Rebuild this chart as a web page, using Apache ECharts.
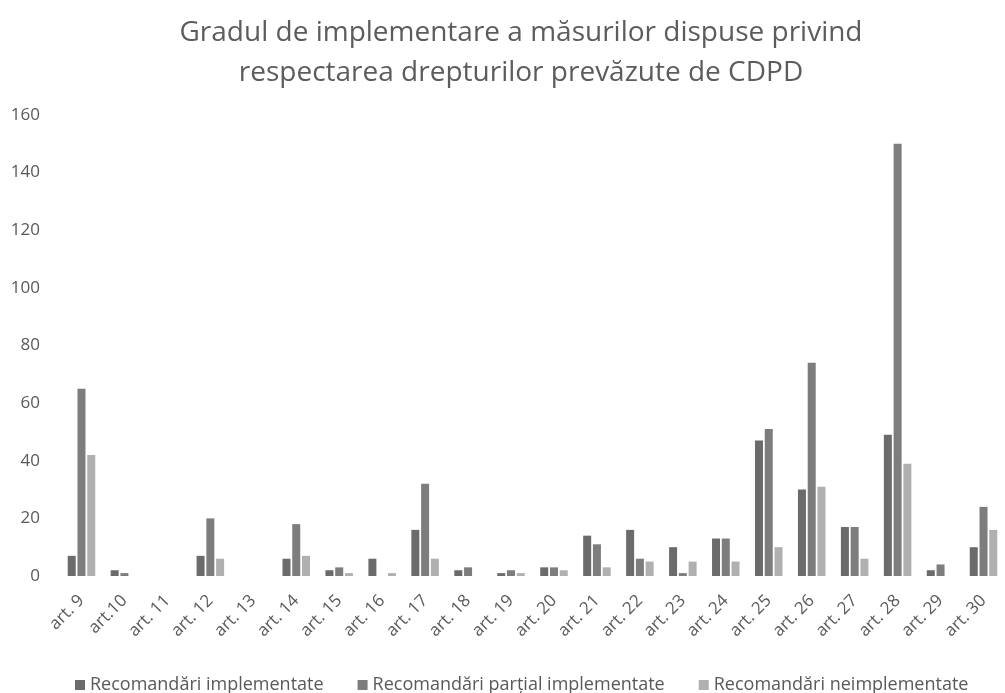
<!DOCTYPE html>
<html>
<head>
<meta charset="utf-8">
<script src="https://cdn.jsdelivr.net/npm/echarts@6/dist/echarts.min.js"></script>
<style>
html,body{margin:0;padding:0;background:#fff;}
#chart{width:1005px;height:693px;}
</style>
</head>
<body>
<div id="chart"></div>
<script>
const categories = ['art. 9','art.10','art. 11','art. 12','art. 13','art. 14','art. 15','art. 16','art. 17','art. 18','art. 19','art. 20','art. 21','art. 22','art. 23','art. 24','art. 25','art. 26','art. 27','art. 28','art. 29','art. 30'];
const implemented = [7,2,0,7,0,6,2,6,16,2,1,3,14,16,10,13,47,30,17,49,2,10];
const partial = [65,1,0,20,0,18,3,0,32,3,2,3,11,6,1,13,51,74,17,150,4,24];
const notImplemented = [42,0,0,6,0,7,1,1,6,0,1,2,3,5,5,5,10,31,6,39,0,16];
const seriesNames = ['Recomandări implementate','Recomandări parțial implementate','Recomandări neimplementate'];
const yTicks = {min:0, max:160, interval:20};

const font = '"Open Sans", sans-serif';
const txt = '#595959';
const colors = ['#6b6b6b','#7d7d7d','#b0b0b0'];

const chart = echarts.init(document.getElementById('chart'));
const mk = (name, data, i) => ({
  name, type:'bar', data, barWidth:8, barGap:'22%',
  itemStyle:{color:colors[i]}
});
chart.setOption({
  animation:false,
  backgroundColor:'#fff',
  title:{
    text:'Gradul de implementare a măsurilor dispuse privind\nrespectarea drepturilor prevăzute de CDPD',
    left:516, top:8, textAlign:'center',
    textStyle:{fontFamily:font, fontSize:28, fontWeight:'normal', color:'#5c5c5c', lineHeight:40}
  },
  legend:{
    top:671, left:70, itemWidth:10, itemHeight:10, itemGap:34, icon:'rect',
    textStyle:{fontFamily:font, fontSize:18, color:txt},
    data:seriesNames
  },
  grid:{left:60, right:-8, top:115, bottom:117, containLabel:false},
  xAxis:{
    type:'category', data:categories,
    axisLine:{show:false}, axisTick:{show:false},
    axisLabel:{rotate:45, fontFamily:font, fontSize:17, color:txt, margin:22, interval:0}
  },
  yAxis:{
    type:'value', min:yTicks.min, max:yTicks.max, interval:yTicks.interval,
    splitLine:{show:false}, axisLine:{show:false}, axisTick:{show:false},
    axisLabel:{fontFamily:font, fontSize:17, color:txt, margin:20}
  },
  series:[mk(seriesNames[0], implemented,0), mk(seriesNames[1], partial,1), mk(seriesNames[2], notImplemented,2)]
});
</script>
</body>
</html>
